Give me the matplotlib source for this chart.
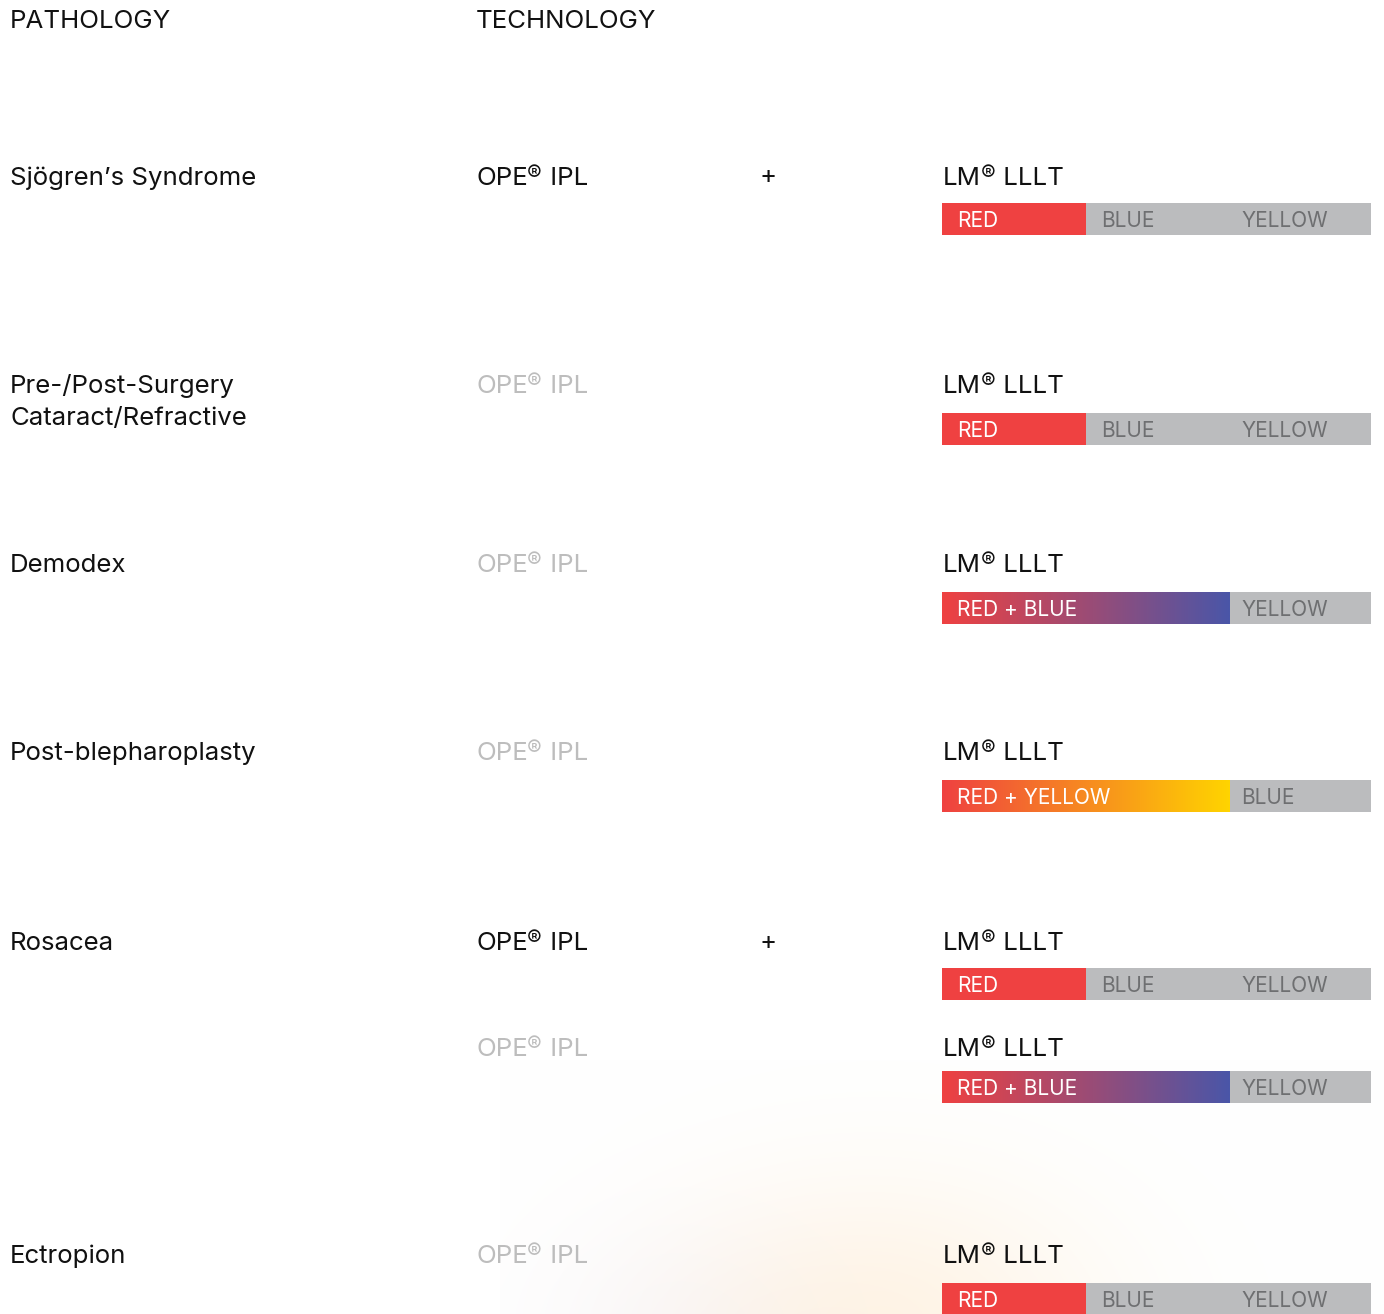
import numpy as np
import matplotlib
matplotlib.use("Agg")
import matplotlib.pyplot as plt
from matplotlib.colors import to_rgb

plt.rcParams['font.family'] = ['Inter', 'DejaVu Sans']

# ---------------- data ----------------
header_labels = ["PATHOLOGY", "TECHNOLOGY"]
pathologies = ["Sjögren’s Syndrome", "Pre-/Post-Surgery\nCataract/Refractive", "Demodex",
               "Post-blepharoplasty", "Rosacea", "", "Ectropion"]
ipl_active = [True, False, False, False, True, False, False]
ipl_label = ("OPE", "®", " IPL")
lllt_label = ("LM", "®", " LLLT")
bar_labels = [["RED", "BLUE", "YELLOW"], ["RED", "BLUE", "YELLOW"], ["RED + BLUE", "YELLOW"],
              ["RED + YELLOW", "BLUE"], ["RED", "BLUE", "YELLOW"], ["RED + BLUE", "YELLOW"],
              ["RED", "BLUE", "YELLOW"]]
bar_spans = [[1, 1, 1], [1, 1, 1], [2, 1], [2, 1], [1, 1, 1], [2, 1], [1, 1, 1]]
bar_on = [[True, False, False], [True, False, False], [True, False], [True, False],
          [True, False, False], [True, False], [True, False, False]]
light_colors = {"RED": "#EF4141", "BLUE": "#4A56A8", "YELLOW": "#FFD400"}

# ---------------- layout / style ----------------
W, H = 1384, 1314
row_base = [185, 393, 572, 760, 950, 1056, 1263]
bar_top = [203, 413, 592, 780, 968, 1071, 1283]
bar_h = 32
x_path, x_tech, x_plus, x_lllt = 10, 476, 768, 943
bar_x0, bar_x1, unit = 942, 1371, 144
line_gap = 32
fs_main = 18.6
fs_bar = 15
black = "#111111"
inactive_txt = "#BDBDBD"
off_bar = "#BBBCBE"
off_txt = "#6E6F71"

fig = plt.figure(figsize=(W / 100, H / 100), dpi=100)
ax = fig.add_axes([0, 0, 1, 1])
ax.set_xlim(0, W)
ax.set_ylim(H, 0)
ax.axis('off')
renderer = fig.canvas.get_renderer()

# faint background glow at bottom
gx = np.linspace(500, W, 440)
gy = np.linspace(1060, H, 130)
GX, GY = np.meshgrid(gx, gy)
peach = np.exp(-(((GX - 880) / 220) ** 2 + ((GY - 1330) / 150) ** 2))
lav = np.exp(-(((GX - 680) / 150) ** 2 + ((GY - 1340) / 120) ** 2))
a_p = 0.20 * peach
a_l = 0.09 * lav
img = np.ones((len(gy), len(gx), 3))
img[..., 0] = 1 - a_l * 0.22
img[..., 1] = 1 - a_p * 0.22 - a_l * 0.20
img[..., 2] = 1 - a_p * 0.50 - a_l * 0.03
img = np.clip(img, 0, 1)
ax.imshow(img, extent=(gx[0], gx[-1], gy[-1], gy[0]), aspect='auto', zorder=0,
          interpolation='bilinear')
ax.set_xlim(0, W)
ax.set_ylim(H, 0)


def reg_text(x, y, parts, color, size):
    base, mark, rest = parts
    t1 = ax.text(x, y, base, fontsize=size, color=color, va='baseline', ha='left', zorder=3)
    w1 = t1.get_window_extent(renderer).width
    em = size * 100 / 72
    t2 = ax.text(x + w1 - 0.5, y - 0.17 * em, mark, fontsize=size * 0.85, color=color,
                 va='baseline', ha='left', zorder=3)
    w2 = t2.get_window_extent(renderer).width
    ax.text(x + w1 + w2 + 0.5, y, rest, fontsize=size, color=color, va='baseline',
            ha='left', zorder=3)


# headers
ax.text(x_path, 28, header_labels[0], fontsize=fs_main, color=black, va='baseline')
ax.text(x_tech, 28, header_labels[1], fontsize=fs_main, color=black, va='baseline')

for i in range(len(pathologies)):
    yb = row_base[i]
    for k, line in enumerate(pathologies[i].split("\n")):
        if line:
            ax.text(x_path, yb + k * line_gap, line, fontsize=fs_main, color=black,
                    va='baseline')
    reg_text(x_tech, yb, ipl_label, black if ipl_active[i] else inactive_txt, fs_main)
    if ipl_active[i]:
        ax.text(x_plus, yb - 8, "+", fontsize=fs_main, color=black, va='center',
                ha='center')
    reg_text(x_lllt, yb, lllt_label, black, fs_main)

    # bar segments
    left = 0
    yt = bar_top[i]
    yc = yt + bar_h / 2
    for lab, span, on in zip(bar_labels[i], bar_spans[i], bar_on[i]):
        x0 = bar_x0 + left * unit
        x1 = min(bar_x0 + (left + span) * unit, bar_x1)
        if on:
            comps = [c.strip() for c in lab.split("+")]
            if len(comps) == 1:
                ax.barh(yc, x1 - x0, left=x0, height=bar_h,
                        color=light_colors[comps[0]], zorder=2, linewidth=0)
            else:
                c0 = np.array(to_rgb(light_colors[comps[0]]))
                c1 = np.array(to_rgb(light_colors[comps[1]]))
                t = np.linspace(0, 1, 256)[:, None]
                grad = (c0 * (1 - t) + c1 * t)[None, :, :]
                ax.imshow(grad, extent=(x0, x1, yt + bar_h, yt), aspect='auto',
                          interpolation='bilinear', zorder=2)
            tc = "white"
        else:
            ax.barh(yc, x1 - x0, left=x0, height=bar_h, color=off_bar, zorder=2,
                    linewidth=0)
            tc = off_txt
        pad = 11 if (lab == "YELLOW" and left > 0) or (lab == "BLUE" and left == 2) else 15
        ax.text(x0 + pad, yc, lab, fontsize=fs_bar, color=tc,
                va='center_baseline', ha='left', zorder=3)
        left += span

ax.set_xlim(0, W)
ax.set_ylim(H, 0)
fig.savefig("out.png", dpi=100)
